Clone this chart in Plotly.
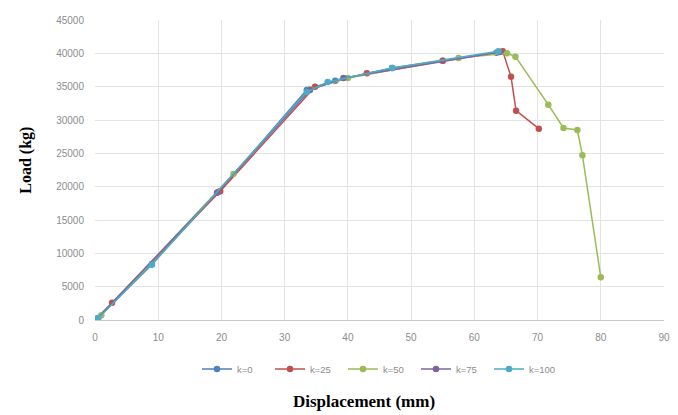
import plotly.graph_objects as go

# Data (displacement mm, load kg)
k0_x = [0, 0.5, 9.0, 19.5, 33.5, 38.0, 47.0, 55.0, 63.5]
k0_y = [0, 300, 8400, 19200, 34500, 35900, 37800, 38900, 40100]

k25_x = [0, 2.7, 19.8, 34.8, 43.0, 55.0, 64.5, 65.8, 66.6, 70.2]
k25_y = [0, 2600, 19300, 35000, 37000, 38900, 40300, 36500, 31400, 28700]

k50_x = [0, 1.0, 21.9, 34.0, 40.0, 57.5, 65.2, 66.5, 71.7, 74.1, 76.3, 77.1, 80.0]
k50_y = [0, 700, 21900, 34600, 36300, 39300, 40000, 39500, 32300, 28800, 28500, 24700, 6400]

k75_x = [0, 0.3, 19.3, 34.0, 39.3, 64.0]
k75_y = [0, 200, 19100, 34500, 36300, 40200]

k100_x = [0, 0.5, 9.0, 33.5, 36.8, 47.0, 63.8]
k100_y = [0, 300, 8300, 34200, 35700, 37800, 40300]

names = ["k=0", "k=25", "k=50", "k=75", "k=100"]
colors = ["#4F81BD", "#C0504D", "#9BBB59", "#8064A2", "#4BACC6"]
xs = [k0_x, k25_x, k50_x, k75_x, k100_x]
ys = [k0_y, k25_y, k50_y, k75_y, k100_y]

x_ticks = list(range(0, 91, 10))
y_ticks = list(range(0, 45001, 5000))

fig = go.Figure()
for n, c, x, y in zip(names, colors, xs, ys):
    fig.add_trace(go.Scatter(
        x=x, y=y, name=n, mode="lines+markers",
        line=dict(color=c, width=1.5),
        marker=dict(color=c, size=6.5),
    ))

fig.update_layout(
    width=678, height=415,
    margin=dict(l=95, r=8, t=20, b=95),
    paper_bgcolor="white", plot_bgcolor="white",
    font=dict(family="Liberation Sans", size=10, color="#8c8c8c"),
    showlegend=True,
    legend=dict(
        orientation="h", x=0.5, xanchor="center", y=-0.163, yanchor="middle",
        font=dict(size=9.5, color="#8c8c8c"), bgcolor="rgba(0,0,0,0)",
        entrywidth=28, entrywidthmode="pixels",
    ),
    xaxis=dict(
        range=[0, 90], tickvals=x_ticks, ticktext=[str(v) for v in x_ticks],
        showgrid=True, gridcolor="#E3E3E3", gridwidth=1,
        showline=True, linecolor="#C8C8C8", linewidth=1,
        zeroline=False, ticks="", ticklabelstandoff=8, mirror=False,
    ),
    yaxis=dict(
        range=[0, 45000], tickvals=y_ticks, ticktext=[str(v) for v in y_ticks],
        showgrid=True, gridcolor="#E3E3E3", gridwidth=1,
        showline=False, zeroline=False, ticks="", ticklabelstandoff=10,
    ),
    annotations=[
        dict(text="<b>Load (kg)</b>", xref="paper", yref="paper",
             x=(25 - 95) / 575, y=(320 - 160) / 300, textangle=-90,
             showarrow=False, xanchor="center", yanchor="middle",
             font=dict(family="Liberation Serif", size=16, color="#000000")),
        dict(text="<b>Displacement (mm)</b>", xref="paper", yref="paper",
             x=(367 - 95) / 575, y=(320 - 401) / 300,
             showarrow=False, xanchor="center", yanchor="middle",
             font=dict(family="Liberation Serif", size=17, color="#000000")),
    ],
)

fig.write_html("out.html")
